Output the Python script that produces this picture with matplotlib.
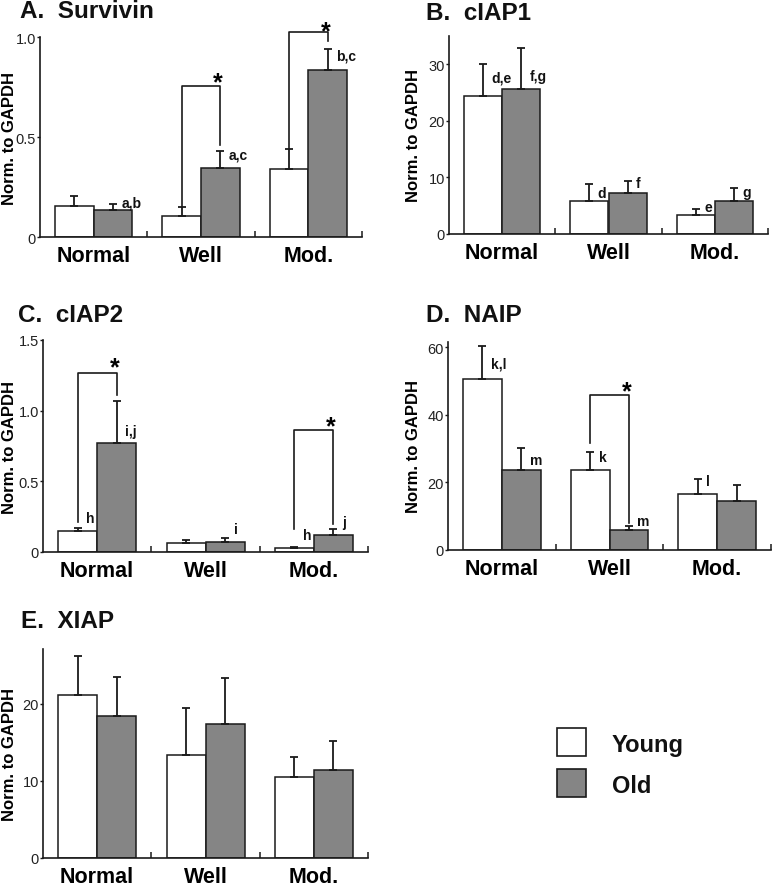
import matplotlib
matplotlib.use('Agg')
import matplotlib.pyplot as plt
from matplotlib.patches import Rectangle
import numpy as np

plt.rcParams['font.family'] = ['Liberation Sans', 'DejaVu Sans']

# ---------------- data ----------------
groups = ['Normal', 'Well', 'Mod.']
series_names = ['Young', 'Old']

survivin_young = [0.155, 0.103, 0.340]
survivin_young_err = [0.048, 0.047, 0.098]
survivin_old = [0.137, 0.345, 0.837]
survivin_old_err = [0.026, 0.083, 0.105]

ciap1_young = [24.35, 5.9, 3.4]
ciap1_young_err = [5.65, 2.9, 1.0]
ciap1_old = [25.6, 7.2, 5.9]
ciap1_old_err = [7.3, 2.1, 2.2]

ciap2_young = [0.146, 0.064, 0.028]
ciap2_young_err = [0.026, 0.021, 0.007]
ciap2_old = [0.769, 0.073, 0.123]
ciap2_old_err = [0.299, 0.028, 0.042]

naip_young = [50.7, 23.8, 16.6]
naip_young_err = [9.7, 5.3, 4.3]
naip_old = [23.6, 5.9, 14.4]
naip_old_err = [6.7, 1.3, 4.9]

xiap_young = [21.16, 13.3, 10.43]
xiap_young_err = [5.04, 6.1, 2.63]
xiap_old = [18.45, 17.4, 11.38]
xiap_old_err = [5.05, 5.96, 3.82]

titles = ['A.  Survivin', 'B.  cIAP1', 'C.  cIAP2', 'D.  NAIP', 'E.  XIAP']

yticks_A = [0, 0.5, 1.0]; yticklabels_A = ['0', '0.5', '1.0']
yticks_B = [0, 10, 20, 30]; yticklabels_B = ['0', '10', '20', '30']
yticks_C = [0, 0.5, 1.0, 1.5]; yticklabels_C = ['0', '0.5', '1.0', '1.5']
yticks_D = [0, 20, 40, 60]; yticklabels_D = ['0', '20', '40', '60']
yticks_E = [0, 10, 20]; yticklabels_E = ['0', '10', '20']

# significance letters: (group, series, text, y)
letters_A = [(0, 1, 'a,b', 0.175), (1, 1, 'a,c', 0.413), (2, 1, 'b,c', 0.91)]
letters_B = [(0, 0, 'd,e', 27.6), (0, 1, 'f,g', 28.0), (1, 0, 'd', 7.2),
             (1, 1, 'f', 9.0), (2, 0, 'e', 4.7), (2, 1, 'g', 7.4)]
letters_C = [(0, 0, 'h', 0.243), (0, 1, 'i,j', 0.856), (1, 1, 'i', 0.16),
             (2, 0, 'h', 0.12), (2, 1, 'j', 0.21)]
letters_D = [(0, 0, 'k,l', 55.1), (0, 1, 'm', 26.5), (1, 0, 'k', 27.4),
             (1, 1, 'm', 8.7), (2, 0, 'l', 20.3)]
letters_E = []

# brackets: (group, left leg bottom, top, right leg bottom, star y)
brackets_A = [(1, 0.150, 0.755, 0.462, 0.8125), (2, 0.442, 1.025, 0.978, 1.067)]
brackets_B = []
brackets_C = [(0, 0.21, 1.264, 1.108, 1.363), (2, 0.16, 0.861, 0.196, 0.943)]
brackets_D = [(1, 31.7, 45.7, 8.0, 49.2)]
brackets_E = []

# ---------------- layout ----------------
W, H = 773, 887
fig = plt.figure(figsize=(W / 100, H / 100), dpi=100)

def rect(l, t, r, b):
    return [l / W, 1 - b / H, (r - l) / W, (b - t) / H]

EDGE = '#1a1a1a'
GRAY = '#858585'
BW = 0.36

panels = [
    dict(rect=(40, 38, 362, 238), ylim=1.0, yt=yticks_A, ytl=yticklabels_A,
         young=survivin_young, ye=survivin_young_err, old=survivin_old, oe=survivin_old_err,
         letters=letters_A, brackets=brackets_A, lab=23, title=(20, 18.5)),
    dict(rect=(449, 37, 768, 235), ylim=35, yt=yticks_B, ytl=yticklabels_B,
         young=ciap1_young, ye=ciap1_young_err, old=ciap1_old, oe=ciap1_old_err,
         letters=letters_B, brackets=brackets_B, lab=27.5, title=(426, 20)),
    dict(rect=(43, 341, 368, 553), ylim=1.5, yt=yticks_C, ytl=yticklabels_C,
         young=ciap2_young, ye=ciap2_young_err, old=ciap2_old, oe=ciap2_old_err,
         letters=letters_C, brackets=brackets_C, lab=26, title=(18, 322.5)),
    dict(rect=(448, 343, 771, 551), ylim=61.5, yt=yticks_D, ytl=yticklabels_D,
         young=naip_young, ye=naip_young_err, old=naip_old, oe=naip_old_err,
         letters=letters_D, brackets=brackets_D, lab=26.5, title=(426, 322.5)),
    dict(rect=(43, 650, 368, 859), ylim=27.07, yt=yticks_E, ytl=yticklabels_E,
         young=xiap_young, ye=xiap_young_err, old=xiap_old, oe=xiap_old_err,
         letters=letters_E, brackets=brackets_E, lab=26, title=(21, 628)),
]

gx = np.arange(len(groups))
offsets = [0.32, 0.68]

for p, title in zip(panels, titles):
    l, t, r, b = p['rect']
    ax = fig.add_axes(rect(l, t, r, b))
    xs_y = gx + offsets[0]
    xs_o = gx + offsets[1]
    ax.bar(xs_y, p['young'], width=BW, color='white', edgecolor=EDGE, linewidth=1.1, zorder=2)
    ax.bar(xs_o, p['old'], width=BW, color=GRAY, edgecolor=EDGE, linewidth=1.1, zorder=2)
    ax.errorbar(xs_y, p['young'], yerr=[np.zeros(3), p['ye']], fmt='none', ecolor=EDGE,
                elinewidth=1.3, capsize=3, capthick=1.3, zorder=3, clip_on=False)
    ax.errorbar(xs_o, p['old'], yerr=[np.zeros(3), p['oe']], fmt='none', ecolor=EDGE,
                elinewidth=1.3, capsize=3, capthick=1.3, zorder=3, clip_on=False)

    ax.set_xlim(0, 3.0)
    ax.set_ylim(0, p['ylim'])
    ax.set_xticks(gx + 0.5)
    ax.set_xticklabels(groups, fontsize=15.5, fontweight='bold')
    ax.set_xticks([1, 2, 3], minor=True)
    ax.tick_params(axis='x', which='major', length=0, pad=6)
    ax.tick_params(axis='x', which='minor', direction='in', length=4, width=1.1, color=EDGE)
    ax.set_yticks(p['yt'])
    ax.set_yticklabels(p['ytl'])
    ax.tick_params(axis='y', length=2.5, width=1.0, pad=0.5, labelsize=10.5,
                   color=EDGE, labelcolor='#222222')
    for s in ['top', 'right']:
        ax.spines[s].set_visible(False)
    for s in ['left', 'bottom']:
        ax.spines[s].set_linewidth(1.2)
        ax.spines[s].set_color(EDGE)
    ax.set_ylabel('Norm. to GAPDH', fontsize=12, fontweight='bold')
    ax.yaxis.set_label_coords(-p['lab'] / (r - l), 0.5)

    for g, s, txt, yy in p['letters']:
        xx = g + offsets[s] + 0.08
        ax.text(xx, yy, txt, fontsize=10, fontweight='bold', ha='left', va='center',
                color='#111111', clip_on=False)

    for g, yl, ytop, yr, ys in p['brackets']:
        x0 = g + offsets[0]
        x1 = g + offsets[1]
        ax.plot([x0, x0, x1, x1], [yl, ytop, ytop, yr], color=EDGE, lw=1.2,
                clip_on=False, zorder=4)
        ax.annotate('*', xy=(x1 - 0.02, ys), xytext=(0, -10.5), textcoords='offset points',
                    fontsize=18, fontweight='bold', ha='center', va='baseline',
                    annotation_clip=False)

    tx, tb = p['title']
    fig.text(tx / W, 1 - tb / H, title, fontsize=17.5, fontweight='bold',
             ha='left', va='baseline', color='#111111')

# legend
for (yt, yb), fc, name, yc in [((729, 757), 'white', series_names[0], 745.5),
                                ((770, 798), GRAY, series_names[1], 786.7)]:
    fig.add_artist(Rectangle((557 / W, 1 - yb / H), 29 / W, (yb - yt) / H,
                             transform=fig.transFigure, facecolor=fc,
                             edgecolor=EDGE, linewidth=1.2))
    fig.text(612 / W, 1 - yc / H, name, fontsize=17, fontweight='bold',
             ha='left', va='center', color='#111111')

fig.savefig('out.png', dpi=100)
